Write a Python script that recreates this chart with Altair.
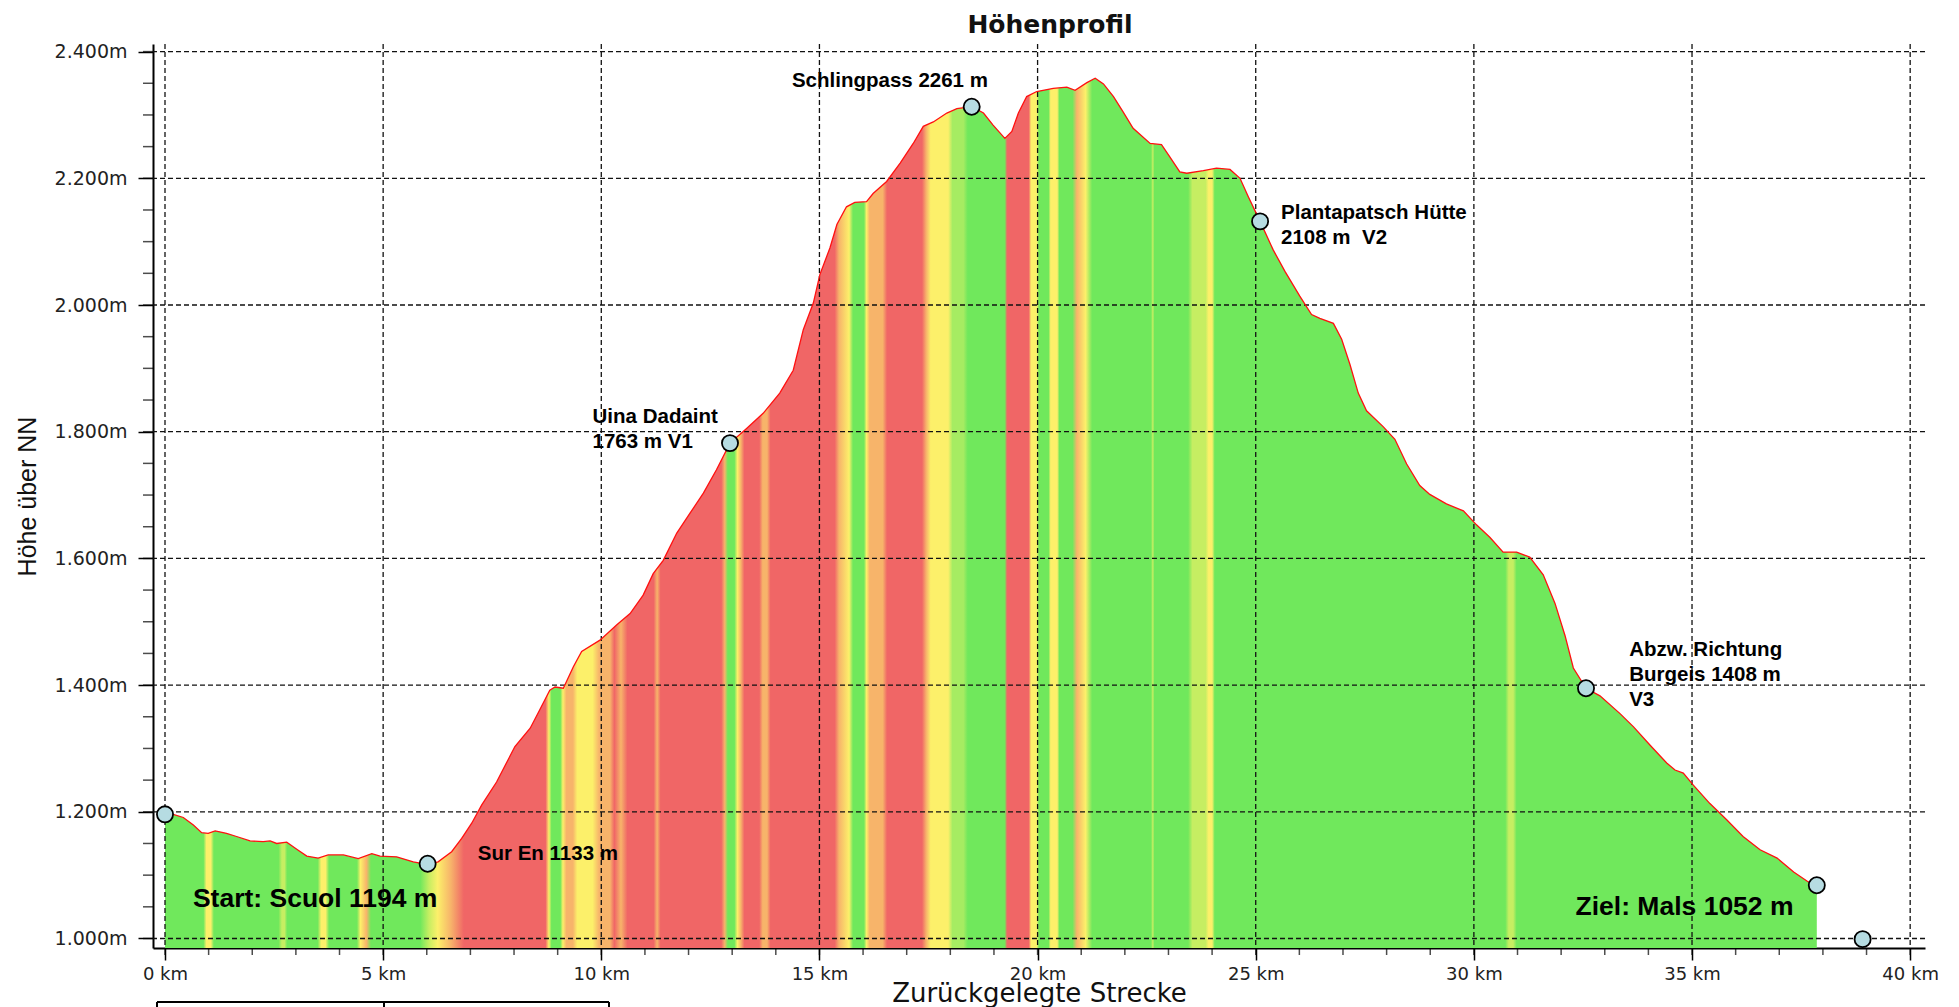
import altair as alt
import pandas as pd

# ---- profile data (distance km, elevation m) ----
km = [0.00, 0.19, 0.42, 0.65, 0.84, 0.99, 1.15, 1.41, 1.64, 1.95,
      2.25, 2.41, 2.56, 2.79, 3.02, 3.25, 3.51, 3.74, 4.09, 4.43,
      4.74, 4.93, 5.31, 5.69, 6.00, 6.26, 6.57, 6.80, 7.03, 7.26,
      7.60, 8.02, 8.37, 8.59, 8.82, 8.94, 9.13, 9.36, 9.55, 9.97,
      10.35, 10.66, 10.96, 11.19, 11.42, 11.73, 12.03, 12.34, 12.64, 12.95,
      13.33, 13.71, 14.09, 14.40, 14.63, 14.86, 15.01, 15.24, 15.40, 15.62,
      15.81, 16.08, 16.23, 16.54, 16.85, 17.15, 17.38, 17.61, 17.92, 18.15,
      18.49, 18.76, 18.98, 19.25, 19.41, 19.56, 19.75, 19.98, 20.36, 20.67,
      20.86, 21.13, 21.32, 21.51, 21.74, 21.96, 22.19, 22.58, 22.84, 23.00,
      23.26, 23.42, 23.80, 24.10, 24.41, 24.64, 24.83, 25.10, 25.40, 25.67,
      26.01, 26.28, 26.47, 26.78, 26.97, 27.16, 27.35, 27.54, 27.92, 28.19,
      28.46, 28.76, 28.99, 29.37, 29.76, 30.06, 30.37, 30.67, 30.98, 31.28,
      31.59, 31.86, 32.09, 32.28, 32.57, 32.89, 33.35, 33.66, 34.04, 34.42,
      34.61, 34.80, 35.03, 35.41, 35.80, 36.17, 36.56, 36.95, 37.33, 37.65,
      37.86]
elev = [1196, 1196, 1191, 1179, 1167, 1166, 1170, 1166, 1161, 1154,
        1153, 1154, 1150, 1152, 1141, 1130, 1127, 1132, 1132, 1126,
        1134, 1130, 1129, 1121, 1117, 1121, 1137, 1158, 1182, 1211,
        1247, 1303, 1332, 1361, 1392, 1397, 1395, 1429, 1453, 1471,
        1495, 1513, 1542, 1576, 1597, 1640, 1671, 1703, 1740, 1782,
        1805, 1829, 1861, 1897, 1961, 2003, 2048, 2090, 2127, 2155,
        2162, 2163, 2176, 2195, 2224, 2255, 2282, 2289, 2303, 2310,
        2313, 2303, 2284, 2263, 2274, 2303, 2329, 2337, 2342, 2344,
        2339, 2351, 2358, 2349, 2329, 2305, 2279, 2255, 2253, 2237,
        2210, 2208, 2212, 2216, 2214, 2200, 2171, 2132, 2087, 2053,
        2014, 1985, 1979, 1971, 1946, 1906, 1861, 1833, 1808, 1788,
        1749, 1715, 1701, 1686, 1675, 1653, 1633, 1610, 1610, 1602,
        1574, 1529, 1478, 1427, 1395, 1383, 1355, 1334, 1305, 1277,
        1266, 1261, 1242, 1213, 1187, 1161, 1140, 1127, 1105, 1090,
        1084]

# ---- waypoint markers ----
marker_km = [0.0, 6.02, 12.95, 18.49, 25.10, 32.57, 37.86, 38.91]
marker_elev = [1196, 1118, 1782, 2313, 2132, 1395, 1084, 999]

# ---- annotations ----
small_text = ["Schlingpass 2261 m", "Sur En 1133 m", "Uina Dadaint\n1763 m V1",
              "Plantapatsch Hütte\n2108 m\u00a0\u00a0V2", "Abzw. Richtung\nBurgeis 1408 m\nV3"]
small_km = [14.37, 7.17, 9.80, 25.58, 33.56]
small_elev = [2344, 1124, 1814, 2136, 1446]
big_text = ["Start: Scuol 1194 m", "Ziel: Mals 1052 m"]
big_km = [0.64, 32.33]
big_elev = [1050, 1037]

# ---- gradient bands along the route (km, colour) ----
G, Y, O, R, YG, LG = "#70e85c", "#fcf06a", "#f7b46a", "#f06666", "#c6ee62", "#a6ec62"
band_km = [0.00, 0.88, 0.95, 1.05, 1.12, 2.60, 2.68, 2.74, 2.80, 3.50,
           3.58, 3.68, 3.76, 4.40, 4.48, 4.62, 4.72, 5.85, 6.05, 6.25,
           6.55, 6.85, 8.72, 8.80, 8.86, 9.06, 9.12, 9.20, 9.35, 9.45,
           9.80, 9.95, 10.20, 10.30, 10.45, 10.60, 11.20, 11.28, 11.36, 12.75,
           12.83, 12.90, 13.05, 13.12, 13.20, 13.28, 13.62, 13.70, 13.80, 13.88,
           15.35, 15.45, 15.68, 15.77, 16.02, 16.08, 16.15, 16.45, 16.55, 17.35,
           17.45, 17.55, 17.95, 18.05, 18.30, 18.40, 19.25, 19.30, 19.80, 19.85,
           19.98, 20.03, 20.25, 20.30, 20.45, 20.50, 20.80, 20.90, 21.10, 21.25,
           22.60, 22.64, 22.68, 23.45, 23.55, 23.85, 23.92, 24.00, 24.06, 30.72,
           30.80, 30.90, 30.98, 37.86]
band_color = [G, G, Y, Y, G, G, YG, YG, G, G,
              Y, Y, G, G, Y, O, G, G, YG, Y,
              O, R, R, Y, G, G, Y, O, O, Y,
              Y, O, O, R, O, R, R, O, R, R,
              O, G, G, Y, O, R, R, O, O, R,
              R, O, Y, G, G, Y, O, O, R, R,
              O, Y, Y, LG, LG, G, G, R, R, Y,
              Y, G, G, Y, Y, G, G, O, Y, G,
              G, YG, G, G, YG, YG, Y, Y, G, G,
              YG, YG, G, G]

x_major = list(range(0, 41, 5))
x_minor = list(range(0, 41, 1))
y_major = list(range(1000, 2401, 200))
y_minor = list(range(1000, 2401, 50))

profile = pd.DataFrame({"km": km, "elev": elev})
markers = pd.DataFrame({"km": marker_km, "elev": marker_elev})
small = pd.DataFrame({"km": small_km, "elev": small_elev, "label": small_text})
big = pd.DataFrame({"km": big_km, "elev": big_elev, "label": big_text})
vgrid = pd.DataFrame({"km": x_major})
hgrid = pd.DataFrame({"elev": y_major})
xminor = pd.DataFrame({"km": x_minor})
yminor = pd.DataFrame({"elev": y_minor})

span = km[-1] - km[0]
stops = [alt.GradientStop(offset=(k - km[0]) / span, color=c)
         for k, c in zip(band_km, band_color)]

Y_BOTTOM = 985
xscale = alt.Scale(domain=[-0.275, 40.34], nice=False, zero=False)
yscale = alt.Scale(domain=[Y_BOTTOM, 2412], nice=False, zero=False)

xaxis = alt.Axis(
    values=x_major, grid=False, labelExpr="datum.value + ' km'",
    tickSize=12, tickColor="black", tickWidth=1.5, domainColor="black", domainWidth=2,
    labelFont="DejaVu Sans", labelFontSize=18, labelColor="#222",
    labelPadding=5, labelOverlap=False,
    title="Zurückgelegte Strecke", titleFont="DejaVu Sans", titleFontSize=26,
    titleFontWeight="normal", titleColor="#111",
    titleBaseline="alphabetic", titleY=53,
)
# German thousands separator: 2400 -> "2.400m"
yaxis = alt.Axis(
    values=y_major, grid=False,
    labelExpr="floor(datum.value / 1000) + '.' + (datum.value % 1000 === 0 ? '000' : '' + (datum.value % 1000)) + 'm'",
    tickSize=15, tickColor="black", tickWidth=1.5, domainColor="black", domainWidth=2,
    labelFont="DejaVu Sans", labelFontSize=19, labelColor="#222",
    labelPadding=11, labelOverlap=False,
    title="Höhe über NN", titleFont="Liberation Sans", titleFontSize=25,
    titleFontWeight="normal", titleColor="#111", titlePadding=14,
)

# every layer carries the same axis definition so the shared axes merge cleanly
X = alt.X("km:Q", scale=xscale, axis=xaxis)
Yenc = alt.Y("elev:Q", scale=yscale, axis=yaxis)

area = alt.Chart(profile).mark_area(
    interpolate="linear",
    color=alt.Gradient(gradient="linear", stops=stops, x1=0, x2=1, y1=0, y2=0),
).encode(x=X, y=Yenc, y2=alt.Y2Datum(Y_BOTTOM))

line = alt.Chart(profile).mark_line(color="#ff1010", strokeWidth=1.3).encode(x=X, y=Yenc)

grid_v = alt.Chart(vgrid).mark_rule(color="#111", strokeDash=[5, 3], strokeWidth=1.3).encode(x=X)
grid_h = alt.Chart(hgrid).mark_rule(color="#111", strokeDash=[5, 3], strokeWidth=1.3).encode(y=Yenc)

# minor ticks (1 km / 50 m) drawn just outside the axis lines
minor_x = alt.Chart(xminor).mark_tick(color="black", size=7, thickness=1.5).encode(
    x=X, y=alt.value(907.5))
minor_y = alt.Chart(yminor).mark_tick(color="black", size=10, thickness=1.5).encode(
    y=Yenc, x=alt.value(-5))

small_lbl = alt.Chart(small).mark_text(
    align="left", baseline="alphabetic", font="Liberation Sans", fontWeight="bold",
    fontSize=20.5, lineHeight=25, lineBreak="\n", color="black",
).encode(x=X, y=Yenc, text="label:N")

big_lbl = alt.Chart(big).mark_text(
    align="left", baseline="alphabetic", font="Liberation Sans", fontWeight="bold",
    fontSize=26.5, color="black",
).encode(x=X, y=Yenc, text="label:N")

points = alt.Chart(markers).mark_circle(
    size=260, fill="#b6dce2", stroke="black", strokeWidth=1.8, opacity=1,
).encode(x=X, y=Yenc)

one = pd.DataFrame({"k": [0]})
box_top = alt.Chart(one).mark_rule(color="black", strokeWidth=2).encode(
    x=alt.value(4), x2=alt.value(456), y=alt.value(958))
box_l = alt.Chart(one).mark_rule(color="black", strokeWidth=2).encode(
    x=alt.value(4), y=alt.value(958), y2=alt.value(970))
box_m = alt.Chart(one).mark_rule(color="black", strokeWidth=2).encode(
    x=alt.value(231), y=alt.value(958), y2=alt.value(970))
box_r = alt.Chart(one).mark_rule(color="black", strokeWidth=2).encode(
    x=alt.value(456), y=alt.value(958), y2=alt.value(970))

chart = alt.layer(
    area, grid_v, grid_h, line, minor_x, minor_y, small_lbl, big_lbl, points,
    box_top, box_l, box_m, box_r
).properties(
    width=1772, height=904,
    title=alt.TitleParams("Höhenprofil", font="DejaVu Sans", fontSize=25, fontWeight="bold",
                          anchor="middle", frame="group", offset=5, dx=11, color="#111"),
    padding={"left": 145, "top": 36, "right": 18, "bottom": 60},
    autosize=alt.AutoSizeParams(type="none"),
).configure(background="white").configure_view(strokeWidth=0)

chart.save("out.html", embed_options={"renderer": "svg", "actions": False})
